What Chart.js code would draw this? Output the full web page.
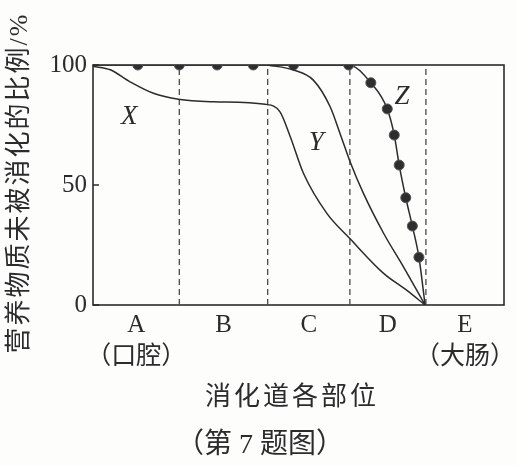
<!DOCTYPE html>
<html>
<head>
<meta charset="utf-8">
<script src="https://cdn.jsdelivr.net/npm/chart.js@4/dist/chart.umd.min.js"></script>
<style>
  html, body { margin: 0; padding: 0; background: #fdfdfc; }
  #wrap { width: 517px; height: 466px; }
</style>
</head>
<body>
<div id="wrap"><canvas id="chart"></canvas></div>
<script>
// Section boundaries along the tract (x axis runs 0..100)
const boundaries = [21, 42.5, 62.5, 81];
const sectionCenters = [10.5, 31.75, 52.5, 71.75, 90.5];
const sectionLabels = [['A', '（口腔）'], ['B', ''], ['C', ''], ['D', ''], ['E', '（大肠）']];
const yTicks = [0, 50, 100];

// Curve X
const xPosX = [0, 4.2, 9, 14.7, 20.8, 29.3, 41.9, 45.5, 48, 51.2, 56.9, 62.6, 70.7, 76.3, 80.8];
const xValX = [99.5, 98, 93, 88.2, 85.7, 84.7, 83.6, 80.5, 70.1, 54.9, 38.2, 27.5, 13.2, 6.2, 0];

// Curve Y
const yPosX = [42.5, 48.8, 53.6, 57.7, 60.1, 62.6, 65.8, 70.7, 75.5, 80.8];
const yValY = [100, 97.9, 93.7, 82.6, 71.5, 59.5, 46.5, 29.9, 16, 0];

// Curve Z (dotted samples)
const zPosX = [0, 10.9, 21, 30.2, 39, 48.8, 62.2, 67.6, 71.6, 73.3, 74.5, 76.1, 77.7, 79.3, 80.8];
const zValY = [100, 100, 100, 100, 100, 100, 100, 92.6, 81.7, 70.8, 58.3, 44.7, 32.9, 19.9, 0];

const curveNames = ['X', 'Y', 'Z'];
const curveNamePos = [[8.8, 78.3], [54.3, 67.5], [75.2, 86.7]];

const ink = '#2b2b2b';
const latinSerif = "'Liberation Serif', 'Times New Roman', serif";
const cjkSerif = "'Liberation Serif', 'Noto Sans CJK SC', serif";

function toPoints(xs, ys) {
  return xs.map((x, i) => ({ x: x, y: ys[i] }));
}

const boundarySets = boundaries.map(b => ({
  data: [{ x: b, y: 0 }, { x: b, y: 100 }],
  borderColor: '#4a4a4a',
  borderWidth: 1.3,
  borderDash: [6, 4],
  pointRadius: 0,
  fill: false
}));

// Frame, inward ticks and free texts
const decorPlugin = {
  id: 'decor',
  beforeDatasetsDraw(chart) {
    const { ctx, chartArea: a } = chart;
    ctx.save();
    ctx.strokeStyle = ink;
    ctx.lineWidth = 1.6;
    ctx.strokeRect(a.left, a.top, a.right - a.left, a.bottom - a.top);
    const ys = chart.scales.y;
    ctx.beginPath();
    yTicks.forEach(v => {
      const py = ys.getPixelForValue(v);
      ctx.moveTo(a.left, py);
      ctx.lineTo(a.left + 6, py);
    });
    ctx.stroke();
    ctx.restore();
  },
  afterDraw(chart) {
    const { ctx } = chart;
    const xs = chart.scales.x, ys = chart.scales.y;
    ctx.save();
    ctx.fillStyle = ink;
    ctx.textAlign = 'center';
    ctx.textBaseline = 'middle';

    // curve names
    ctx.font = "italic 27px " + latinSerif;
    curveNames.forEach((n, i) => {
      ctx.fillText(n, xs.getPixelForValue(curveNamePos[i][0]), ys.getPixelForValue(curveNamePos[i][1]));
    });

    // x title and caption
    ctx.letterSpacing = '3px';
    ctx.font = "26px " + cjkSerif;
    ctx.fillText('消化道各部位', 292, 398);
    ctx.letterSpacing = '0px';
    ctx.font = "28px " + cjkSerif;
    ctx.fillText('（第 7 题图）', 260, 446);

    // y title, vertical
    ctx.translate(20, 183);
    ctx.rotate(-Math.PI / 2);
    ctx.letterSpacing = '2px';
    ctx.font = "26px " + cjkSerif;
    ctx.fillText('营养物质未被消化的比例/%', 0, 0);
    ctx.restore();
  }
};

new Chart(document.getElementById('chart'), {
  type: 'line',
  data: {
    datasets: [
      {
        data: toPoints(xPosX, xValX),
        borderColor: ink, borderWidth: 1.5, pointRadius: 0,
        cubicInterpolationMode: 'monotone', fill: false
      },
      {
        data: toPoints(yPosX, yValY),
        borderColor: ink, borderWidth: 1.5, pointRadius: 0,
        cubicInterpolationMode: 'monotone', fill: false
      },
      {
        data: toPoints(zPosX, zValY),
        borderColor: ink, borderWidth: 1.5,
        pointRadius: zPosX.map((x, i) => (i === 0 || i === zPosX.length - 1) ? 0 : 5),
        pointBackgroundColor: '#2e2e2e',
        pointBorderColor: '#555',
        pointBorderWidth: 1,
        cubicInterpolationMode: 'monotone', fill: false
      },
      ...boundarySets
    ]
  },
  options: {
    responsive: true,
    maintainAspectRatio: false,
    animation: false,
    layout: { padding: { left: 0, top: 65, right: 13, bottom: 0 } },
    plugins: { legend: { display: false }, tooltip: { enabled: false } },
    scales: {
      x: {
        type: 'linear', min: 0, max: 100,
        grid: { display: false, drawTicks: false },
        border: { display: false },
        afterBuildTicks: s => { s.ticks = sectionCenters.map(v => ({ value: v })); },
        afterFit: s => {
          s.height = 161;
          s.paddingLeft = 0;
          s.paddingRight = 0;
        },
        ticks: {
          autoSkip: false, maxRotation: 0, padding: 4,
          color: ink,
          font: { family: cjkSerif, size: 25, lineHeight: 1.3 },
          callback: (v, i) => sectionLabels[i]
        }
      },
      y: {
        min: 0, max: 100,
        grid: { display: false, drawTicks: false },
        border: { display: false },
        afterBuildTicks: s => { s.ticks = yTicks.map(v => ({ value: v })); },
        afterFit: s => {
          s.width = 93;
          s.paddingTop = 0;
          s.paddingBottom = 0;
        },
        ticks: {
          padding: 6,
          color: ink,
          font: { family: latinSerif, size: 25 }
        }
      }
    }
  },
  plugins: [decorPlugin]
});
</script>
</body>
</html>
